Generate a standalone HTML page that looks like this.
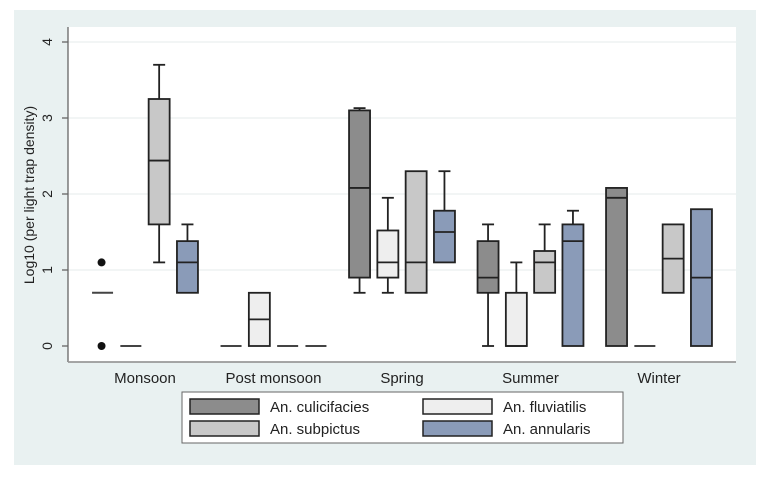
<!DOCTYPE html>
<html><head><meta charset="utf-8"><style>
body{margin:0;background:#fff;}
svg{display:block;font-family:"Liberation Sans",Arial,sans-serif;}
</style></head><body>
<svg id="chart" width="775" height="478" viewBox="0 0 775 478">
<rect x="14" y="10" width="742" height="455" fill="#e9f1f1"/>
<rect x="68" y="27" width="668" height="335" fill="#ffffff"/>
<g id="grid"></g>
<line x1="68" y1="27" x2="68" y2="362" stroke="#666" stroke-width="1.3"/>
<line x1="68" y1="362" x2="736" y2="362" stroke="#999" stroke-width="1.8"/>
<text transform="translate(34,195) rotate(-90)" text-anchor="middle" font-size="14" fill="#222">Log10 (per light trap density)</text>
<g id="marks"></g>
<g id="xlabels"></g>
<g>
<rect x="182" y="392" width="441" height="51" fill="#fff" stroke="#666" stroke-width="1"/>
<rect x="190" y="399" width="69" height="15" fill="#8c8c8c" stroke="#222" stroke-width="1.5"/>
<text x="270" y="412" font-size="15" fill="#222">An. culicifacies</text>
<rect x="190" y="421" width="69" height="15" fill="#c8c8c8" stroke="#222" stroke-width="1.5"/>
<text x="270" y="434" font-size="15" fill="#222">An. subpictus</text>
<rect x="423" y="399" width="69" height="15" fill="#eeeeee" stroke="#222" stroke-width="1.5"/>
<text x="503" y="412" font-size="15" fill="#222">An. fluviatilis</text>
<rect x="423" y="421" width="69" height="15" fill="#8a9bb8" stroke="#222" stroke-width="1.5"/>
<text x="503" y="434" font-size="15" fill="#222">An. annularis</text>
</g>
</svg>
<script>
const seasons=["Monsoon","Post monsoon","Spring","Summer","Winter"];
const species=["culicifacies","fluviatilis","subpictus","annularis"];
const colors=["#8c8c8c","#eeeeee","#c8c8c8","#8a9bb8"];
const yTicks=[0,1,2,3,4];
// each: [whiskerLow, q1, median, q3, whiskerHigh] per season, per species
const culicifacies=[[0.7,0.7,0.7,0.7,0.7],[0,0,0,0,0],[0.7,0.9,2.08,3.1,3.13],[0,0.7,0.9,1.38,1.6],[0,0,1.95,2.08,2.08]];
const fluviatilis=[[0,0,0,0,0],[0,0,0.35,0.7,0.7],[0.7,0.9,1.1,1.52,1.95],[0,0,0,0.7,1.1],[0,0,0,0,0]];
const subpictus=[[1.1,1.6,2.44,3.25,3.7],[0,0,0,0,0],[0.7,0.7,1.1,2.3,2.3],[0.7,0.7,1.1,1.25,1.6],[0.7,0.7,1.15,1.6,1.6]];
const annularis=[[0.7,0.7,1.1,1.38,1.6],[0,0,0,0,0],[1.1,1.1,1.5,1.78,2.3],[0,0,1.38,1.6,1.78],[0,0,0.9,1.8,1.8]];
const outliersX=[0,0];
const outliersY=[1.1,0];
const allSeries=[culicifacies,fluviatilis,subpictus,annularis];
const NS="http://www.w3.org/2000/svg";
function y(v){return 346-v*76;}
function gx(i){return 145+i*128.5;}
function sx(i,j){return gx(i)+(j-1.5)*28.3;}
function mk(tag,attrs,parent){const e=document.createElementNS(NS,tag);for(const k in attrs)e.setAttribute(k,attrs[k]);parent.appendChild(e);return e;}
const grid=document.getElementById('grid');
yTicks.forEach(t=>{
  if(t>0){const g=mk('line',{x1:68,x2:736,y1:y(t),y2:y(t),stroke:'#eef2f2','stroke-width':1.5},grid);
  
  }
  const tk=mk('line',{x1:62,x2:68,y1:y(t),y2:y(t),stroke:'#666','stroke-width':1.3},grid);
  
  
  const tx=mk('text',{transform:`translate(52,${y(t)}) rotate(-90)`,'text-anchor':'middle','font-size':14,fill:'#222'},grid);
  tx.textContent=t;
  
  
});
const marks=document.getElementById('marks');
const hw=10.5;
allSeries.forEach((ser,j)=>{
  ser.forEach((d,i)=>{
    const cx=sx(i,j);
    const g=mk('g',{},marks);
    
    
    const [lo,q1,md,q3,hi]=d;
    if(q3-q1<0.001){
      mk('line',{x1:cx-hw,x2:cx+hw,y1:y(md),y2:y(md),stroke:'#444','stroke-width':2},g);
      return;
    }
    if(hi>q3+0.001){mk('line',{x1:cx,x2:cx,y1:y(q3),y2:y(hi),stroke:'#222','stroke-width':1.8},g);
      mk('line',{x1:cx-6,x2:cx+6,y1:y(hi),y2:y(hi),stroke:'#222','stroke-width':1.8},g);}
    if(lo<q1-0.001){mk('line',{x1:cx,x2:cx,y1:y(q1),y2:y(lo),stroke:'#222','stroke-width':1.8},g);
      mk('line',{x1:cx-6,x2:cx+6,y1:y(lo),y2:y(lo),stroke:'#222','stroke-width':1.8},g);}
    mk('rect',{x:cx-hw,y:y(q3),width:2*hw,height:y(q1)-y(q3),fill:colors[j],stroke:'#222','stroke-width':1.8},g);
    mk('line',{x1:cx-hw,x2:cx+hw,y1:y(md),y2:y(md),stroke:'#222','stroke-width':1.8},g);
  });
});
outliersX.forEach((si,k)=>{
  const c=mk('circle',{cx:sx(si,0)-1,cy:y(outliersY[k]),r:4,fill:'#111'},marks);
  
  
});
const xl=document.getElementById('xlabels');
seasons.forEach((s,i)=>{
  const t=mk('text',{x:gx(i),y:383,'text-anchor':'middle','font-size':15,fill:'#222'},xl);
  t.textContent=s;
  
  
});
</script>
</body></html>
